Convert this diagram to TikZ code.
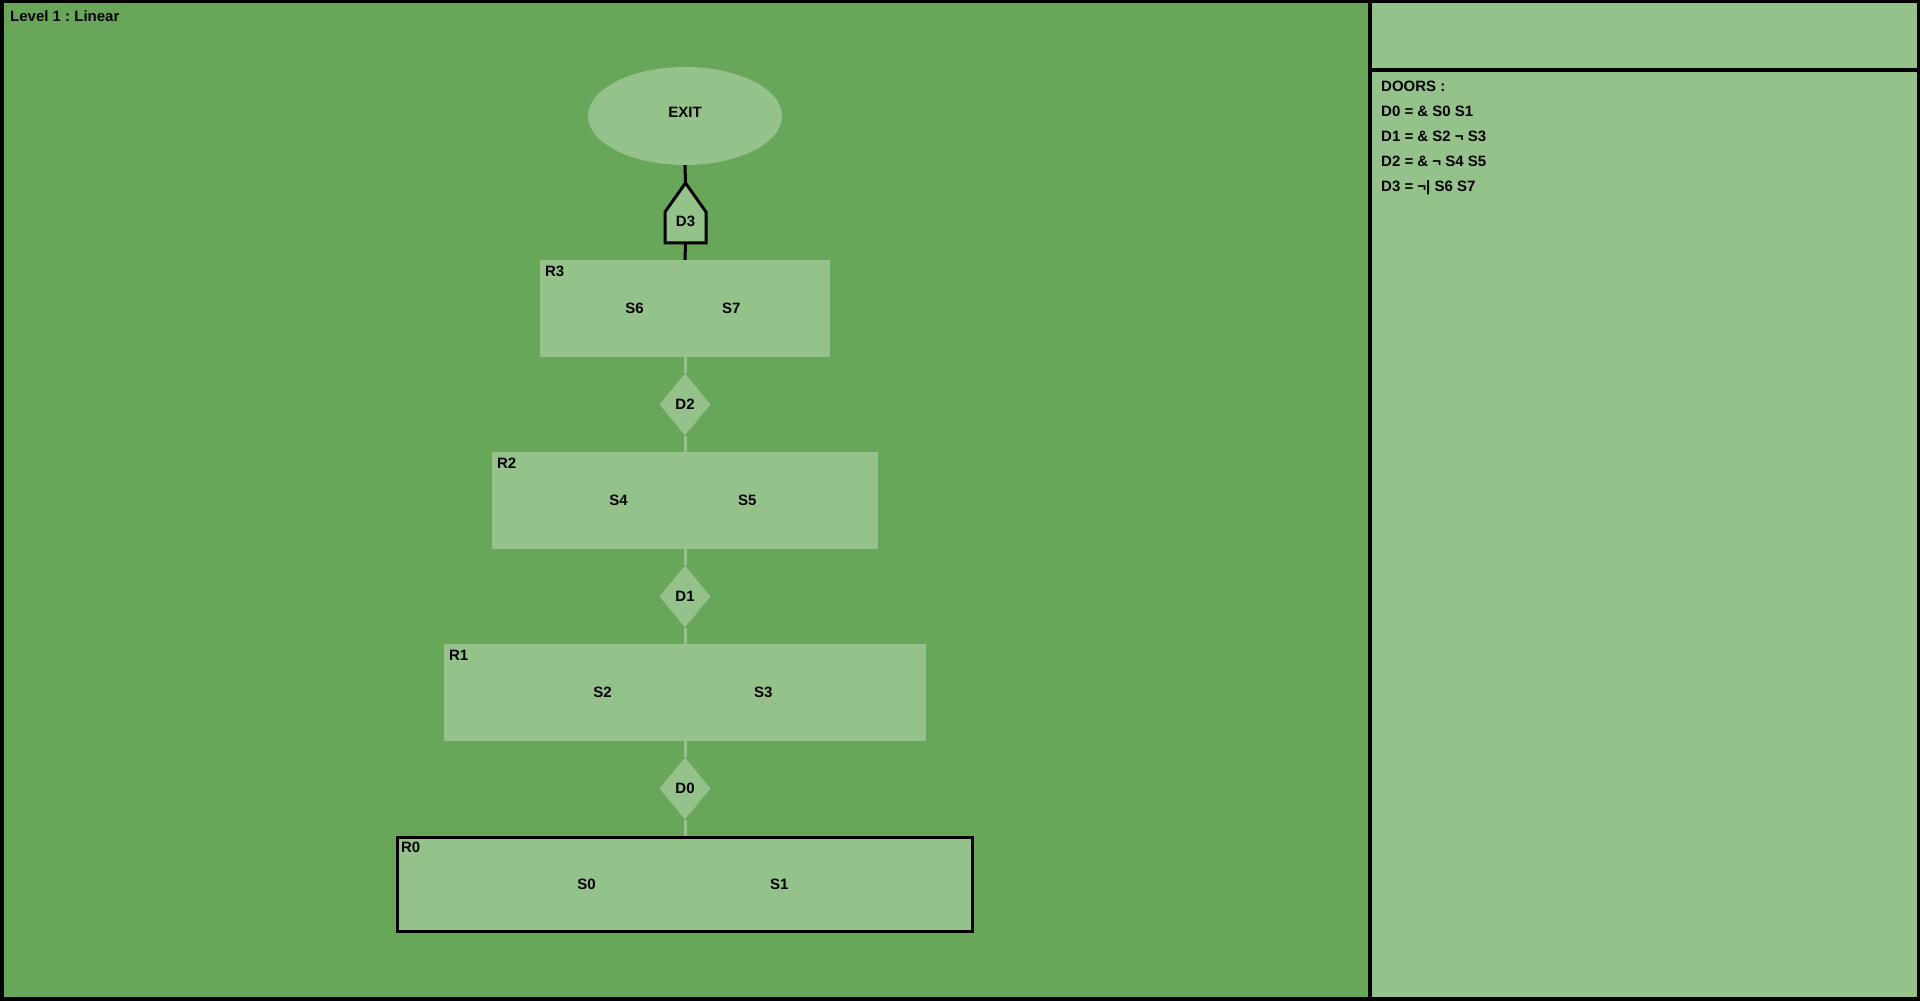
\documentclass[tikz,border=0pt]{standalone}
\usepackage{fontspec}
\setmainfont{Liberation Sans}
\usetikzlibrary{positioning,shapes.geometric,calc}
\definecolor{Field}{HTML}{68A659}
\definecolor{Pale}{HTML}{95C28B}
\frenchspacing

\begin{document}
\begin{tikzpicture}[x=1pt,y=1pt,
    txt/.style={font=\fontsize{15}{18}\selectfont\bfseries,text=black},
    room/.style={txt,fill=Pale,minimum height=97pt,inner sep=0pt},
    door/.style={txt,diamond,fill=Pale,minimum width=51pt,minimum height=62pt,inner sep=0pt},
    exitnode/.style={txt,ellipse,fill=Pale,minimum width=194pt,minimum height=98pt,text depth=7pt},
    tag/.style={txt,anchor=base west,inner sep=0pt},
    frame/.style={black,line width=3.5pt},
    link/.style={Pale,line width=3pt},
    blink/.style={black,line width=3pt}
  ]
    \useasboundingbox (0,0) rectangle (1920,1001);
    % panels
    \fill[Field] (0,0) rectangle (1370,1001);
    \fill[Pale] (1370,0) rectangle (1920,1001);
    \draw[frame] (1.75,1.75) rectangle (1918.25,999.25);
    \draw[frame] (1370,0) -- (1370,1001);
    \draw[frame] (1370,931) -- (1920,931);
    \node[tag] (title) at (10,979.5) {Level 1 : Linear};

    % rooms, bottom to top
    \foreach \r/\w/\y in {0/578/116.5,1/482/308.5,2/386/500.5,3/290/692.5}{
      \pgfmathtruncatemacro\a{2*\r}
      \pgfmathtruncatemacro\b{2*\r+1}
      \node[room,minimum width=\w pt] (r\r) at (685,\y) {};
      \node[txt,anchor=north west,inner sep=0pt] (rl\r) at ([shift={(5,-6)}]r\r.north west) {R\r};
      \node[txt] (s\a) at ($(r\r.west)!1/3!(r\r.east)+(-2,0)$) {S\a};
      \node[txt] (s\b) at ($(r\r.west)!2/3!(r\r.east)+(-2,0)$) {S\b};
    }

    % doors between rooms
    \foreach \d/\y in {0/212.5,1/404.5,2/596.5}{
      \pgfmathtruncatemacro\e{\d+1}
      \node[door] (d\d) at (685,\y) {D\d};
      \draw[link] (r\d.north) -- (d\d.south);
      \draw[link] (d\d.north) -- (r\e.south);
    }
    \draw[blink] ([shift={(1.5,1.5)}]r0.south west) rectangle ([shift={(-1.5,-1.5)}]r0.north east);

    % exit and last door
    \node[exitnode] (exit) at (685,885) {EXIT};
    \coordinate (d3top) at (685.5,818);
    \coordinate (d3bot) at (685.5,758);
    \draw[blink,fill=Pale] (d3top) -- ++(-20.5,-29) -- ++(0,-31) -- ++(41,0) -- ++(0,31) -- cycle;
    \node[txt,inner sep=0pt] (d3) at (685.5,780) {D3};
    \draw[blink] (exit.south) -- (d3top);
    \draw[blink] (d3bot) -- (r3.north);

    % door list
    \node[tag] (doors) at (1381,909) {DOORS :};
    \foreach \i/\t in {0/{\& S0 S1},1/{\& S2 ¬ S3},2/{\& ¬ S4 S5},3/{¬| S6 S7}}
      \node[tag] (dd\i) at (1381,{884-25*\i}) {D\i{} = \t};
  \end{tikzpicture}
\end{document}
